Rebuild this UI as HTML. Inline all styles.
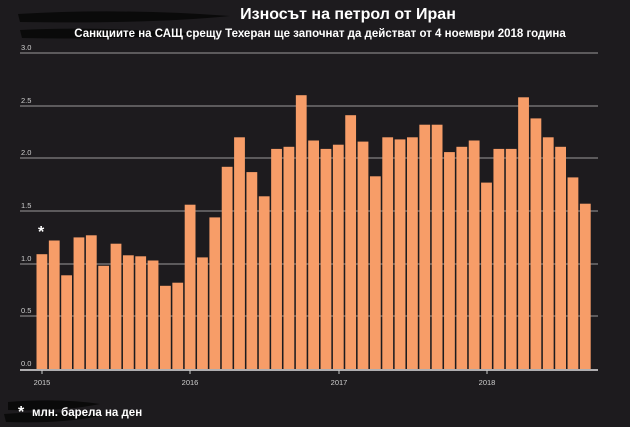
<!DOCTYPE html>
<html><head><meta charset="utf-8"><style>
html,body{margin:0;padding:0;background:#1d1b1e;}
svg{display:block;font-family:"Liberation Sans","DejaVu Sans",sans-serif;}
</style></head><body>
<svg width="630" height="427" viewBox="0 0 630 427" xmlns="http://www.w3.org/2000/svg">
<rect width="630" height="427" fill="#1d1b1e"/>
<path d="M18 14 Q120 8 230 16 Q150 24 20 22 Z M20 30 Q100 26 200 34 Q120 40 22 38 Z" fill="#0a0a0a"/>
<text x="348" y="19" fill="#fff" font-size="16" font-weight="bold" text-anchor="middle">Износът на петрол от Иран</text>
<text x="320" y="37" fill="#fff" font-size="11.5" font-weight="bold" text-anchor="middle">Санкциите на САЩ срещу Техеран ще започнат да действат от 4 ноември 2018 година</text>
<g stroke="#9a9a9a" stroke-width="1">
<line x1="20" y1="53" x2="598" y2="53"/>
<line x1="20" y1="106" x2="598" y2="106"/>
<line x1="20" y1="158" x2="598" y2="158"/>
<line x1="20" y1="211" x2="598" y2="211"/>
<line x1="20" y1="264" x2="598" y2="264"/>
<line x1="20" y1="316" x2="598" y2="316"/>
</g>
<g fill="#cfcfcf" font-size="7.5">
<text x="21" y="50">3.0</text><text x="21" y="103">2.5</text><text x="21" y="155">2.0</text>
<text x="21" y="208">1.5</text><text x="21" y="261">1.0</text><text x="21" y="313">0.5</text><text x="21" y="366">0.0</text>
</g>
<g fill="#f79d68">
<rect x="36.5" y="254.2" width="10.8" height="114.8"/>
<rect x="48.85" y="240.5" width="10.8" height="128.5"/>
<rect x="61.2" y="275.3" width="10.8" height="93.7"/>
<rect x="73.55" y="237.4" width="10.8" height="131.6"/>
<rect x="85.9" y="235.3" width="10.8" height="133.7"/>
<rect x="98.25" y="265.8" width="10.8" height="103.2"/>
<rect x="110.6" y="243.7" width="10.8" height="125.3"/>
<rect x="122.95" y="255.3" width="10.8" height="113.7"/>
<rect x="135.3" y="256.3" width="10.8" height="112.7"/>
<rect x="147.65" y="260.5" width="10.8" height="108.5"/>
<rect x="160" y="285.8" width="10.8" height="83.2"/>
<rect x="172.35" y="282.7" width="10.8" height="86.3"/>
<rect x="184.7" y="204.7" width="10.8" height="164.3"/>
<rect x="197.05" y="257.4" width="10.8" height="111.6"/>
<rect x="209.4" y="217.4" width="10.8" height="151.6"/>
<rect x="221.75" y="166.8" width="10.8" height="202.2"/>
<rect x="234.1" y="137.3" width="10.8" height="231.7"/>
<rect x="246.45" y="172.1" width="10.8" height="196.9"/>
<rect x="258.8" y="196.3" width="10.8" height="172.7"/>
<rect x="271.15" y="148.9" width="10.8" height="220.1"/>
<rect x="283.5" y="146.8" width="10.8" height="222.2"/>
<rect x="295.85" y="95.2" width="10.8" height="273.8"/>
<rect x="308.2" y="140.5" width="10.8" height="228.5"/>
<rect x="320.55" y="148.9" width="10.8" height="220.1"/>
<rect x="332.9" y="144.7" width="10.8" height="224.3"/>
<rect x="345.25" y="115.2" width="10.8" height="253.8"/>
<rect x="357.6" y="141.6" width="10.8" height="227.4"/>
<rect x="369.95" y="176.3" width="10.8" height="192.7"/>
<rect x="382.3" y="137.3" width="10.8" height="231.7"/>
<rect x="394.65" y="139.4" width="10.8" height="229.6"/>
<rect x="407" y="137.3" width="10.8" height="231.7"/>
<rect x="419.35" y="124.7" width="10.8" height="244.3"/>
<rect x="431.7" y="124.7" width="10.8" height="244.3"/>
<rect x="444.05" y="152.1" width="10.8" height="216.9"/>
<rect x="456.4" y="146.8" width="10.8" height="222.2"/>
<rect x="468.75" y="140.5" width="10.8" height="228.5"/>
<rect x="481.1" y="182.6" width="10.8" height="186.4"/>
<rect x="493.45" y="148.9" width="10.8" height="220.1"/>
<rect x="505.8" y="148.9" width="10.8" height="220.1"/>
<rect x="518.15" y="97.3" width="10.8" height="271.7"/>
<rect x="530.5" y="118.4" width="10.8" height="250.6"/>
<rect x="542.85" y="137.3" width="10.8" height="231.7"/>
<rect x="555.2" y="146.8" width="10.8" height="222.2"/>
<rect x="567.55" y="177.4" width="10.8" height="191.6"/>
<rect x="579.9" y="203.7" width="10.8" height="165.3"/>
</g>
<line x1="20" y1="370" x2="598" y2="370" stroke="#e0e0e0" stroke-width="1.5"/>
<g stroke="#ccc"><line x1="42" y1="370" x2="42" y2="374"/><line x1="190" y1="370" x2="190" y2="374"/><line x1="339" y1="370" x2="339" y2="374"/><line x1="487" y1="370" x2="487" y2="374"/></g>
<g fill="#cfcfcf" font-size="7.5" text-anchor="middle">
<text x="42" y="385">2015</text><text x="190" y="385">2016</text><text x="339" y="385">2017</text><text x="487" y="385">2018</text>
</g>
<text x="38" y="237" fill="#fff" font-size="16" font-weight="bold">*</text>
<path d="M8 402 Q60 398 100 404 Q60 412 8 410 Z M4 414 Q60 410 100 416 Q60 424 6 422 Z" fill="#0a0a0a"/>
<text x="18" y="417" fill="#fff" font-size="16" font-weight="bold">*</text>
<text x="32" y="416" fill="#fff" font-size="11.5" font-weight="bold">млн. барела на ден</text>
</svg>
</body></html>
